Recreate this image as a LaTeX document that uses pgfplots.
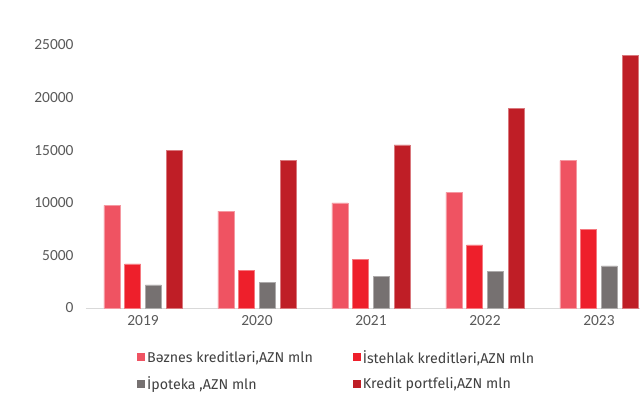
\documentclass[border=0pt]{standalone}
\usepackage{fontspec}
\setmainfont{Carlito}
\newfontfamily\legfont{Fira Sans}
\usepackage{pgfplots}
\pgfplotsset{compat=1.18}

\definecolor{cBiz}{HTML}{EF5362}
\definecolor{cIst}{HTML}{EE1F2B}
\definecolor{cIpo}{HTML}{767171}
\definecolor{cKre}{HTML}{BF1E26}
\definecolor{cTick}{HTML}{595959}
\definecolor{cLeg}{HTML}{404040}

\begin{document}
\begin{tikzpicture}
% canvas the size of the reference
\useasboundingbox (-86bp,-98bp) rectangle (558bp,308bp);
\begin{axis}[
    name=ax, at={(0,0)}, anchor=south west,
    scale only axis, width=554bp, height=263bp,
    ybar=4.7bp, bar width=16bp,
    xmin=-0.5, xmax=4.36, ymin=0, ymax=25000,
    xtick={0,1,2,3,4}, xticklabels={2019,2020,2021,2022,2023},
    ytick={0,5000,10000,15000,20000,25000},
    scaled y ticks=false,
    /pgf/number format/1000 sep={},
    /pgf/number format/assume math mode=true,
    ticklabel style={font=\fontsize{15.5}{18}\selectfont, text=cTick},
    yticklabel style={xshift=-9bp},
    xticklabel style={yshift=-4bp},
    major tick length=0pt,
    axis x line*=bottom, axis y line*=left,
    x axis line style={draw=black!15, line width=1bp, -},
    y axis line style={draw=none},
    legend columns=2,
    legend cell align=left,
    legend style={at={(axis description cs:0.092,-0.152)}, anchor=north west,
        draw=none, fill=none, inner sep=0pt,
        font=\legfont\fontsize{14.3}{17.2}\selectfont, text=cLeg,
        /tikz/every even column/.append style={column sep=38bp},
        row sep=8bp},
    legend image code/.code={\fill[#1,draw=none] (0bp,-4bp) rectangle (8bp,4bp);},
]
\addplot[fill=cBiz, draw=cBiz!60!white, line width=0.6bp] coordinates {(0,9750) (1,9200) (2,10000) (3,11000) (4,14000)};
\addlegendentry{Bəznes kreditləri,AZN mln}
\addplot[fill=cIst, draw=cIst!60!white, line width=0.6bp] coordinates {(0,4200) (1,3600) (2,4600) (3,6000) (4,7500)};
\addlegendentry{İstehlak kreditləri,AZN mln}
\addplot[fill=cIpo, draw=cIpo!60!white, line width=0.6bp] coordinates {(0,2200) (1,2400) (2,3000) (3,3500) (4,4000)};
\addlegendentry{İpoteka ,AZN mln}
\addplot[fill=cKre, draw=cKre!60!white, line width=0.6bp] coordinates {(0,14950) (1,14000) (2,15500) (3,19000) (4,24000)};
\addlegendentry{Kredit portfeli,AZN mln}
\end{axis}
\end{tikzpicture}
\end{document}
